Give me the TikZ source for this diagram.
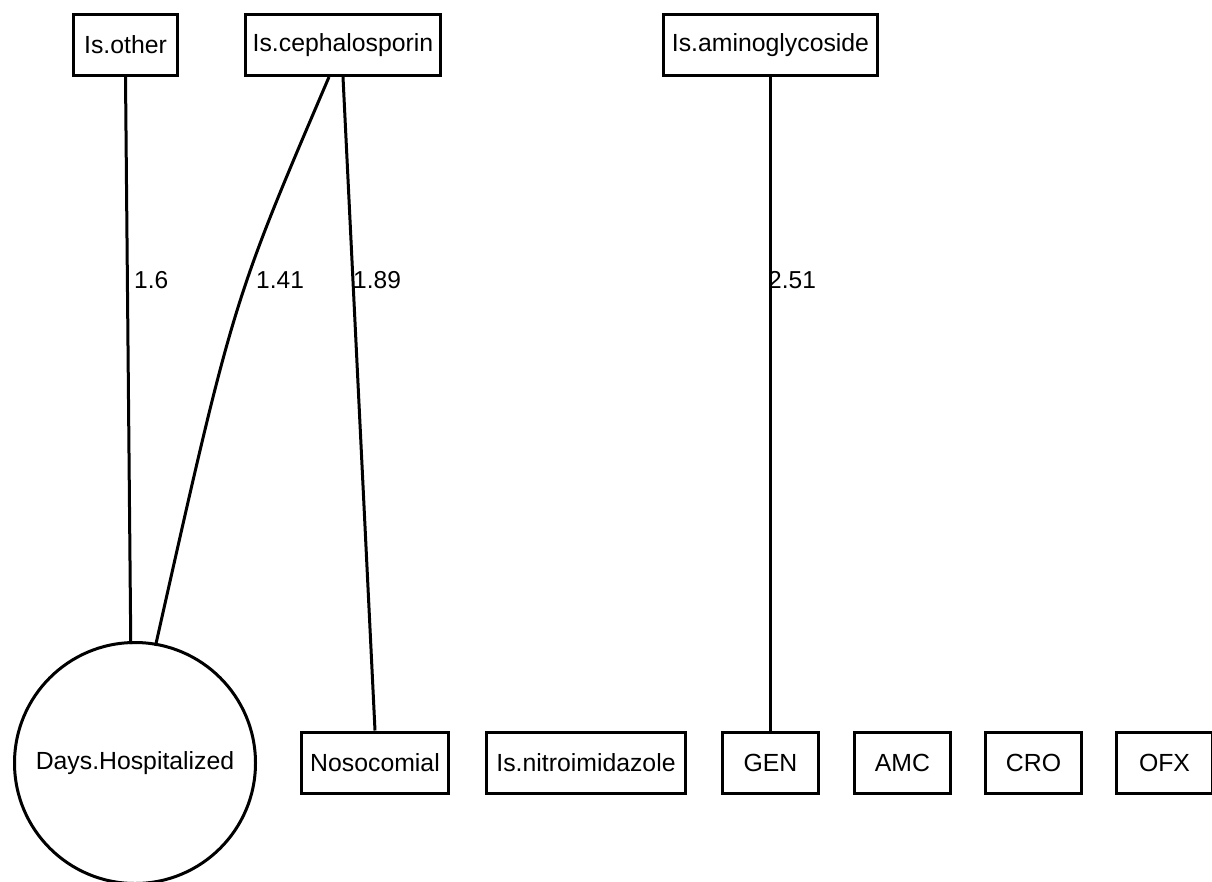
\documentclass[tikz,border=0pt]{standalone}
\usepackage{fontspec}
\setmainfont{Liberation Sans}
\usetikzlibrary{calc}
\begin{document}
\begin{tikzpicture}[x=1pt,y=-1pt,
  box/.style={draw,line width=3pt,rectangle,minimum height=61pt,inner sep=0pt,font=\fontsize{24.8}{28}\selectfont},
  circ/.style={draw,line width=3pt,circle,minimum size=241pt,inner sep=0pt,font=\fontsize{24.8}{28}\selectfont},
  edge/.style={line width=3pt},
  lbl/.style={anchor=west,inner sep=0pt,font=\fontsize{24.5}{28}\selectfont}]
\useasboundingbox[fill=white] (0,0) rectangle (1212,881);
\node[box,minimum width=104pt] (other) at (125.5,45) {Is.other};
\node[box,minimum width=195pt] (ceph) at (343,45) {Is.cephalosporin};
\node[box,minimum width=214pt] (amino) at (770.5,45) {Is.aminoglycoside};
\node[circ] (days) at (135,763) {Days.Hospitalized};
\node[box,minimum width=147pt] (noso) at (375,762.5) {Nosocomial};
\node[box,minimum width=199pt] (nitro) at (586,762.5) {Is.nitroimidazole};
\node[box,minimum width=96pt] (gen) at (770.5,762.5) {GEN};
\node[box,minimum width=96pt] (amc) at (902.5,762.5) {AMC};
\node[box,minimum width=96pt] (cro) at (1033.5,762.5) {CRO};
\node[box,minimum width=96pt] (ofx) at (1164.5,762.5) {OFX};
\draw[edge,shorten >=-3pt] (other.south) -- (days.92);
\draw[edge,shorten >=-3pt] ($(ceph.south)+(-14,0)$) .. controls (233,301) .. (days.80);
\draw[edge] (ceph.south) -- (noso.north);
\draw[edge] (amino.south) -- (gen.north);
\node[lbl] (l1) at (134,280) {1.6};
\node[lbl] (l2) at (256,280) {1.41};
\node[lbl] (l3) at (353,280) {1.89};
\node[lbl] (l4) at (768,280) {2.51};
\end{tikzpicture}
\end{document}
